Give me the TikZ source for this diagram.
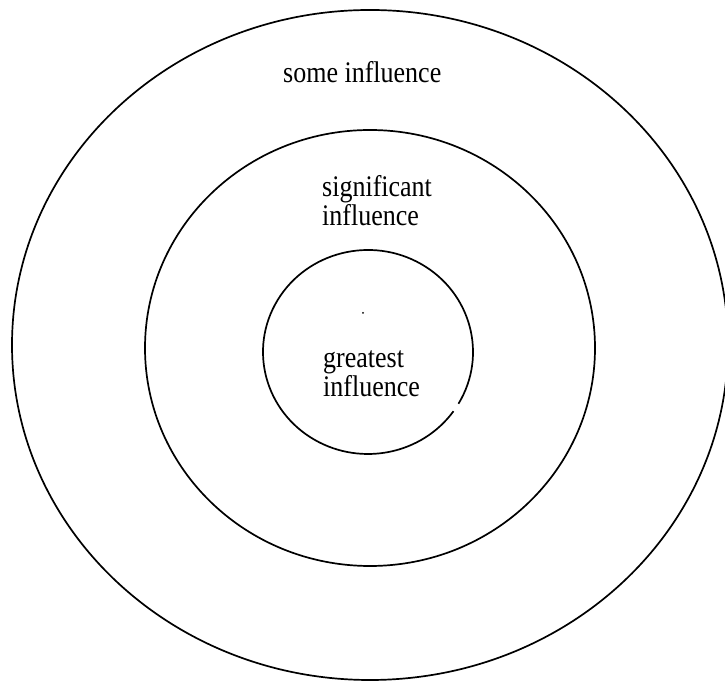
\documentclass[tikz,border=0pt]{standalone}
\usepackage{fontspec}
\setmainfont{Liberation Serif}
\tikzset{
  ring/.style={draw=black, line width=1.7pt},
  lbl/.style={anchor=base west, inner sep=0pt, font=\fontsize{26}{30}\selectfont}
}
\newcommand{\tall}[1]{\scalebox{1}[1.15]{#1}}
\begin{document}
\begin{tikzpicture}[x=1pt,y=1pt]
\useasboundingbox (0,0) rectangle (725,682);
\fill[white] (0,0) rectangle (725,682);
\clip (0,0) rectangle (725,682);
% rings
\draw[ring] (370,337) ellipse [x radius=358pt, y radius=335pt];
\draw[ring] (370,334) ellipse [x radius=225pt, y radius=218pt];
\draw[ring] (368,330) ++(-30.5:105pt and 102pt) arc [start angle=-30.5, end angle=324.5, x radius=105pt, y radius=102pt];
\fill (363,369) circle [radius=1pt];
% labels
\node[lbl] (some) at (283,599) {\tall{some influence}};
\node[lbl] (sig1) at (322,485.5) {\tall{significant}};
\node[lbl] (sig2) at (322,456.5) {\tall{influence}};
\node[lbl] (gr1) at (323,314) {\tall{greatest}};
\node[lbl] (gr2) at (323,285) {\tall{influence}};
\end{tikzpicture}
\end{document}
